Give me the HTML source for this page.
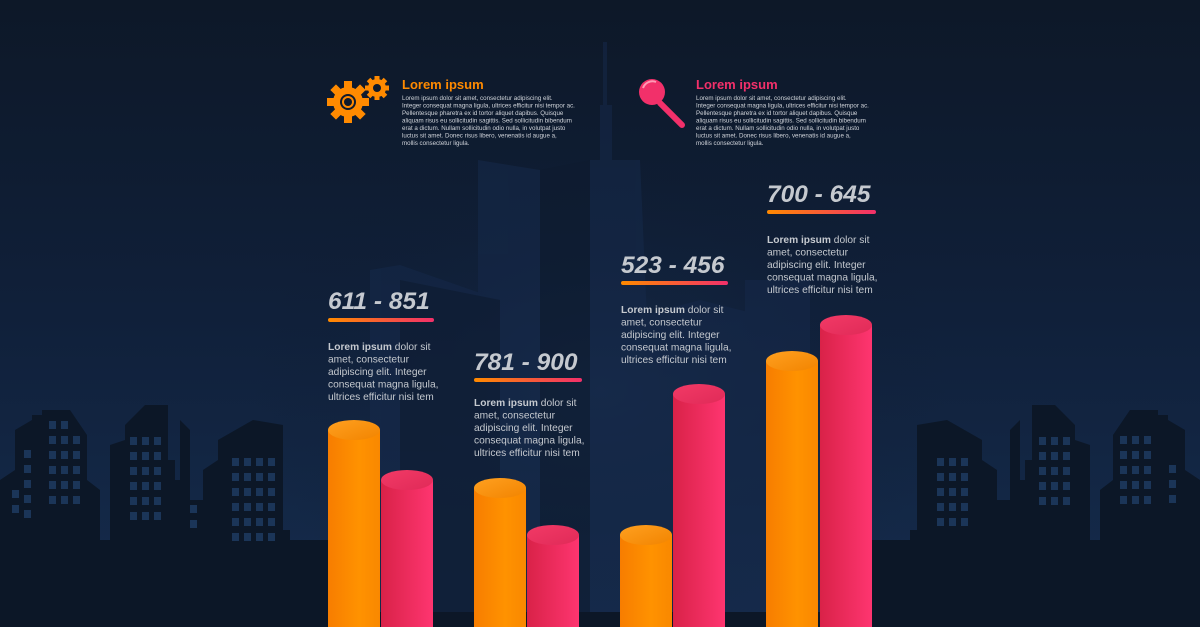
<!DOCTYPE html>
<html><head><meta charset="utf-8"><style>
html,body{margin:0;padding:0;width:1200px;height:627px;overflow:hidden;background:#0e1a2d}
svg{display:block}
.t{font-family:"Liberation Sans",sans-serif}
</style></head><body>
<svg width="1200" height="627" viewBox="0 0 1200 627" xmlns="http://www.w3.org/2000/svg">
<defs>
<linearGradient id="bg" x1="0" y1="0" x2="0" y2="1"><stop offset="0" stop-color="#0d1828"/><stop offset="0.5" stop-color="#10203a"/><stop offset="1" stop-color="#152c4d"/></linearGradient>
<radialGradient id="glow" cx="0.5" cy="0.55" r="0.5"><stop offset="0" stop-color="#1a3152" stop-opacity="0.5"/><stop offset="1" stop-color="#0e1a2d" stop-opacity="0"/></radialGradient>
<linearGradient id="ul" x1="0" x2="1"><stop offset="0" stop-color="#ff8a00"/><stop offset="1" stop-color="#f2306a"/></linearGradient>
<linearGradient id="og" x1="0" x2="1"><stop offset="0" stop-color="#f77d00"/><stop offset="0.6" stop-color="#ff9200"/><stop offset="1" stop-color="#f98800"/></linearGradient>
<linearGradient id="pg" x1="0" x2="1"><stop offset="0" stop-color="#d92248"/><stop offset="1" stop-color="#fe3570"/></linearGradient>
<linearGradient id="ot" x1="0" y1="0" x2="1" y2="1"><stop offset="0" stop-color="#ffa020"/><stop offset="1" stop-color="#f28400"/></linearGradient>
<linearGradient id="pt" x1="0" y1="0" x2="1" y2="1"><stop offset="0" stop-color="#f23a66"/><stop offset="1" stop-color="#e02a58"/></linearGradient>
</defs>
<rect width="1200" height="627" fill="url(#bg)"/>
<rect x="250" y="100" width="700" height="527" fill="url(#glow)"/>
<!-- central towers -->
<g fill="#16294a" opacity="0.55">
<polygon points="478,160 540,170 540,612 478,612"/>
<polygon points="590,160 640,160 660,612 590,612"/>
<polygon points="600,105 612,105 612,612 600,612"/>
<rect x="603" y="42" width="4" height="70"/>
<polygon points="370,270 400,265 500,300 500,612 370,612"/>
<polygon points="625,320 700,300 780,320 780,612 625,612"/>
<polygon points="745,280 810,280 810,612 745,612"/>
</g>
<g fill="#0d1a2f" opacity="0.6">
<polygon points="400,280 500,300 500,612 400,612"/>
<polygon points="540,170 590,160 590,612 540,612"/>
</g>
<!-- left skyline -->
<g fill="#0c1727">
<polygon points="0,480 15,470 15,430 32,420 32,415 42,415 42,410 70,410 87,435 87,480 100,490 100,560 0,560"/>
<polygon points="110,445 125,440 125,425 145,405 168,405 168,460 175,460 175,480 180,480 180,420 190,430 190,545 110,545"/>
<polygon points="203,470 218,460 218,440 253,420 283,425 283,530 290,530 290,560 203,560"/>
<rect x="0" y="540" width="330" height="87"/>
<rect x="180" y="500" width="30" height="60"/>
</g>
<g fill="#1b3558">
<rect x="49" y="421" width="7" height="8"/><rect x="61" y="421" width="7" height="8"/>
<rect x="49" y="436" width="7" height="8"/><rect x="61" y="436" width="7" height="8"/><rect x="73" y="436" width="7" height="8"/>
<rect x="49" y="451" width="7" height="8"/><rect x="61" y="451" width="7" height="8"/><rect x="73" y="451" width="7" height="8"/>
<rect x="49" y="466" width="7" height="8"/><rect x="61" y="466" width="7" height="8"/><rect x="73" y="466" width="7" height="8"/>
<rect x="49" y="481" width="7" height="8"/><rect x="61" y="481" width="7" height="8"/><rect x="73" y="481" width="7" height="8"/>
<rect x="49" y="496" width="7" height="8"/><rect x="61" y="496" width="7" height="8"/><rect x="73" y="496" width="7" height="8"/>
<rect x="24" y="450" width="7" height="8"/><rect x="24" y="465" width="7" height="8"/><rect x="24" y="480" width="7" height="8"/><rect x="24" y="495" width="7" height="8"/><rect x="12" y="490" width="7" height="8"/><rect x="12" y="505" width="7" height="8"/><rect x="24" y="510" width="7" height="8"/>
<rect x="130" y="437" width="7" height="8"/><rect x="142" y="437" width="7" height="8"/><rect x="154" y="437" width="7" height="8"/>
<rect x="130" y="452" width="7" height="8"/><rect x="142" y="452" width="7" height="8"/><rect x="154" y="452" width="7" height="8"/>
<rect x="130" y="467" width="7" height="8"/><rect x="142" y="467" width="7" height="8"/><rect x="154" y="467" width="7" height="8"/>
<rect x="130" y="482" width="7" height="8"/><rect x="142" y="482" width="7" height="8"/><rect x="154" y="482" width="7" height="8"/>
<rect x="130" y="497" width="7" height="8"/><rect x="142" y="497" width="7" height="8"/><rect x="154" y="497" width="7" height="8"/>
<rect x="130" y="512" width="7" height="8"/><rect x="142" y="512" width="7" height="8"/><rect x="154" y="512" width="7" height="8"/>
<rect x="190" y="505" width="7" height="8"/><rect x="190" y="520" width="7" height="8"/>
<rect x="232" y="458" width="7" height="8"/><rect x="244" y="458" width="7" height="8"/><rect x="256" y="458" width="7" height="8"/><rect x="268" y="458" width="7" height="8"/>
<rect x="232" y="473" width="7" height="8"/><rect x="244" y="473" width="7" height="8"/><rect x="256" y="473" width="7" height="8"/><rect x="268" y="473" width="7" height="8"/>
<rect x="232" y="488" width="7" height="8"/><rect x="244" y="488" width="7" height="8"/><rect x="256" y="488" width="7" height="8"/><rect x="268" y="488" width="7" height="8"/>
<rect x="232" y="503" width="7" height="8"/><rect x="244" y="503" width="7" height="8"/><rect x="256" y="503" width="7" height="8"/><rect x="268" y="503" width="7" height="8"/>
<rect x="232" y="518" width="7" height="8"/><rect x="244" y="518" width="7" height="8"/><rect x="256" y="518" width="7" height="8"/><rect x="268" y="518" width="7" height="8"/>
<rect x="232" y="533" width="7" height="8"/><rect x="244" y="533" width="7" height="8"/><rect x="256" y="533" width="7" height="8"/><rect x="268" y="533" width="7" height="8"/>
</g>
<!-- right skyline (mirror) -->
<g transform="translate(1200,0) scale(-1,1)">
<g fill="#0c1727">
<polygon points="0,480 15,470 15,430 32,420 32,415 42,415 42,410 70,410 87,435 87,480 100,490 100,560 0,560"/>
<polygon points="110,445 125,440 125,425 145,405 168,405 168,460 175,460 175,480 180,480 180,420 190,430 190,545 110,545"/>
<polygon points="203,470 218,460 218,440 253,420 283,425 283,530 290,530 290,560 203,560"/>
<rect x="0" y="540" width="330" height="87"/>
<rect x="180" y="500" width="30" height="60"/>
</g>
<g fill="#1b3558">
<rect x="49" y="436" width="7" height="8"/><rect x="61" y="436" width="7" height="8"/><rect x="73" y="436" width="7" height="8"/>
<rect x="49" y="451" width="7" height="8"/><rect x="61" y="451" width="7" height="8"/><rect x="73" y="451" width="7" height="8"/>
<rect x="49" y="466" width="7" height="8"/><rect x="61" y="466" width="7" height="8"/><rect x="73" y="466" width="7" height="8"/>
<rect x="49" y="481" width="7" height="8"/><rect x="61" y="481" width="7" height="8"/><rect x="73" y="481" width="7" height="8"/>
<rect x="49" y="496" width="7" height="8"/><rect x="61" y="496" width="7" height="8"/><rect x="73" y="496" width="7" height="8"/>
<rect x="24" y="465" width="7" height="8"/><rect x="24" y="480" width="7" height="8"/><rect x="24" y="495" width="7" height="8"/>
<rect x="130" y="437" width="7" height="8"/><rect x="142" y="437" width="7" height="8"/><rect x="154" y="437" width="7" height="8"/>
<rect x="130" y="452" width="7" height="8"/><rect x="142" y="452" width="7" height="8"/><rect x="154" y="452" width="7" height="8"/>
<rect x="130" y="467" width="7" height="8"/><rect x="142" y="467" width="7" height="8"/><rect x="154" y="467" width="7" height="8"/>
<rect x="130" y="482" width="7" height="8"/><rect x="142" y="482" width="7" height="8"/><rect x="154" y="482" width="7" height="8"/>
<rect x="130" y="497" width="7" height="8"/><rect x="142" y="497" width="7" height="8"/><rect x="154" y="497" width="7" height="8"/>
<rect x="232" y="458" width="7" height="8"/><rect x="244" y="458" width="7" height="8"/><rect x="256" y="458" width="7" height="8"/>
<rect x="232" y="473" width="7" height="8"/><rect x="244" y="473" width="7" height="8"/><rect x="256" y="473" width="7" height="8"/>
<rect x="232" y="488" width="7" height="8"/><rect x="244" y="488" width="7" height="8"/><rect x="256" y="488" width="7" height="8"/>
<rect x="232" y="503" width="7" height="8"/><rect x="244" y="503" width="7" height="8"/><rect x="256" y="503" width="7" height="8"/>
<rect x="232" y="518" width="7" height="8"/><rect x="244" y="518" width="7" height="8"/><rect x="256" y="518" width="7" height="8"/>
</g>
</g>
<rect x="0" y="612" width="1200" height="15" fill="#0c1727"/>

<!-- cylinders -->
<g>
<rect x="328" y="430" width="52" height="197" fill="url(#og)"/><ellipse cx="354" cy="430" rx="26" ry="10" fill="url(#ot)"/>
<rect x="381" y="480" width="52" height="147" fill="url(#pg)"/><ellipse cx="407" cy="480" rx="26" ry="10" fill="url(#pt)"/>
<rect x="474" y="488" width="52" height="139" fill="url(#og)"/><ellipse cx="500" cy="488" rx="26" ry="10" fill="url(#ot)"/>
<rect x="527" y="535" width="52" height="92" fill="url(#pg)"/><ellipse cx="553" cy="535" rx="26" ry="10" fill="url(#pt)"/>
<rect x="620" y="535" width="52" height="92" fill="url(#og)"/><ellipse cx="646" cy="535" rx="26" ry="10" fill="url(#ot)"/>
<rect x="673" y="394" width="52" height="233" fill="url(#pg)"/><ellipse cx="699" cy="394" rx="26" ry="10" fill="url(#pt)"/>
<rect x="766" y="361" width="52" height="266" fill="url(#og)"/><ellipse cx="792" cy="361" rx="26" ry="10" fill="url(#ot)"/>
<rect x="820" y="325" width="52" height="302" fill="url(#pg)"/><ellipse cx="846" cy="325" rx="26" ry="10" fill="url(#pt)"/>
</g>

<!-- gear icons -->
<g fill="#ff8a00">
<g transform="translate(348,102)">
<circle r="15"/>
<g id="teeth"><rect x="-4" y="-21" width="8" height="8"/><rect x="-4" y="13" width="8" height="8"/><rect x="-21" y="-4" width="8" height="8"/><rect x="13" y="-4" width="8" height="8"/></g>
<use href="#teeth" transform="rotate(45)"/>
<circle r="8" fill="#0e1a2d"/><circle r="6" fill="#ff8a00"/><circle r="4" fill="#0e1a2d"/>
</g>
<g transform="translate(377,88)">
<circle r="9"/>
<g id="t2"><rect x="-2.5" y="-12" width="5" height="5"/><rect x="-2.5" y="7" width="5" height="5"/><rect x="-12" y="-2.5" width="5" height="5"/><rect x="7" y="-2.5" width="5" height="5"/></g>
<use href="#t2" transform="rotate(45)"/>
<circle r="4" fill="#0e1a2d"/>
</g>
</g>
<!-- magnifier -->
<g>
<line x1="660" y1="103" x2="682" y2="125" stroke="#f2306a" stroke-width="6" stroke-linecap="round"/>
<circle cx="652" cy="92" r="13" fill="#f2306a"/>
<path d="M643 88 A10 10 0 0 1 656 82" stroke="#ff9ab5" stroke-width="2" fill="none"/>
</g>

<g class="t">
<text x="402" y="89" font-size="13" font-weight="bold" fill="#ff8a00">Lorem ipsum</text>
<g font-size="6.2" fill="#d0d4da">
<text x="402" y="100">Lorem ipsum dolor sit amet, consectetur adipiscing elit.</text>
<text x="402" y="107.5">Integer consequat magna ligula, ultrices efficitur nisi tempor ac.</text>
<text x="402" y="115">Pellentesque pharetra ex id tortor aliquet dapibus. Quisque</text>
<text x="402" y="122.5">aliquam risus eu sollicitudin sagittis. Sed sollicitudin bibendum</text>
<text x="402" y="130">erat a dictum. Nullam sollicitudin odio nulla, in volutpat justo</text>
<text x="402" y="137.5">luctus sit amet. Donec risus libero, venenatis id augue a,</text>
<text x="402" y="145">mollis consectetur ligula.</text>
</g>
<text x="696" y="89" font-size="13" font-weight="bold" fill="#f2306a">Lorem ipsum</text>
<g font-size="6.2" fill="#d0d4da">
<text x="696" y="100">Lorem ipsum dolor sit amet, consectetur adipiscing elit.</text>
<text x="696" y="107.5">Integer consequat magna ligula, ultrices efficitur nisi tempor ac.</text>
<text x="696" y="115">Pellentesque pharetra ex id tortor aliquet dapibus. Quisque</text>
<text x="696" y="122.5">aliquam risus eu sollicitudin sagittis. Sed sollicitudin bibendum</text>
<text x="696" y="130">erat a dictum. Nullam sollicitudin odio nulla, in volutpat justo</text>
<text x="696" y="137.5">luctus sit amet. Donec risus libero, venenatis id augue a,</text>
<text x="696" y="145">mollis consectetur ligula.</text>
</g>

<g font-size="24.5" font-weight="bold" font-style="italic" fill="#c5c9cf">
<text x="328" y="309">611 - 851</text>
<text x="474" y="370">781 - 900</text>
<text x="621" y="273">523 - 456</text>
<text x="767" y="202">700 - 645</text>
</g>
<rect x="328" y="318" width="106" height="4" rx="2" fill="url(#ul)"/>
<rect x="474" y="378" width="108" height="4" rx="2" fill="url(#ul)"/>
<rect x="621" y="281" width="107" height="4" rx="2" fill="url(#ul)"/>
<rect x="767" y="210" width="109" height="4" rx="2" fill="url(#ul)"/>

<g font-size="10.2" fill="#c5c9cf">
<text x="328" y="350"><tspan font-weight="bold">Lorem ipsum</tspan> dolor sit</text>
<text x="328" y="362.5">amet, consectetur</text>
<text x="328" y="375">adipiscing elit. Integer</text>
<text x="328" y="387.5">consequat magna ligula,</text>
<text x="328" y="400">ultrices efficitur nisi tem</text>

<text x="474" y="406"><tspan font-weight="bold">Lorem ipsum</tspan> dolor sit</text>
<text x="474" y="418.5">amet, consectetur</text>
<text x="474" y="431">adipiscing elit. Integer</text>
<text x="474" y="443.5">consequat magna ligula,</text>
<text x="474" y="456">ultrices efficitur nisi tem</text>

<text x="621" y="313"><tspan font-weight="bold">Lorem ipsum</tspan> dolor sit</text>
<text x="621" y="325.5">amet, consectetur</text>
<text x="621" y="338">adipiscing elit. Integer</text>
<text x="621" y="350.5">consequat magna ligula,</text>
<text x="621" y="363">ultrices efficitur nisi tem</text>

<text x="767" y="243"><tspan font-weight="bold">Lorem ipsum</tspan> dolor sit</text>
<text x="767" y="255.5">amet, consectetur</text>
<text x="767" y="268">adipiscing elit. Integer</text>
<text x="767" y="280.5">consequat magna ligula,</text>
<text x="767" y="293">ultrices efficitur nisi tem</text>
</g>
</g>
</svg>
</body></html>
